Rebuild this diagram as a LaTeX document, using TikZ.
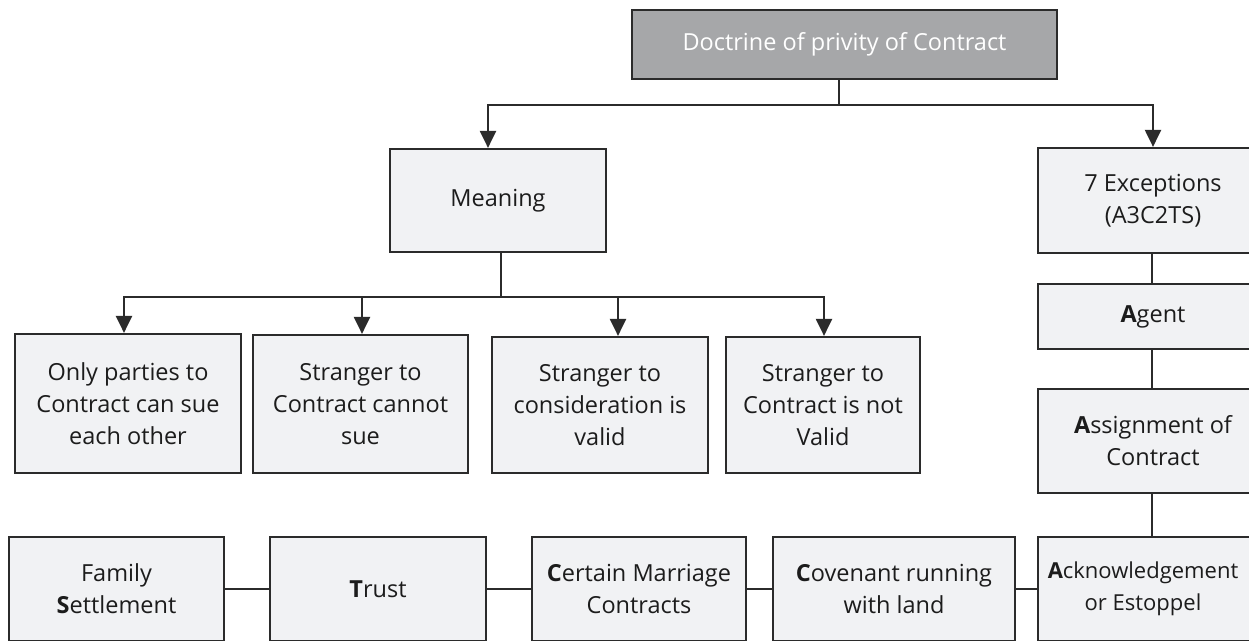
\documentclass[tikz,border=0pt]{standalone}
\usepackage{fontspec}
\setmainfont{Open Sans}
\usetikzlibrary{arrows.meta}

\definecolor{linec}{HTML}{2B2B2B}
\definecolor{boxfill}{HTML}{F1F2F4}
\definecolor{headfill}{HTML}{A6A7A9}
\definecolor{textc}{HTML}{1C1C1C}

\begin{document}
\begin{tikzpicture}[x=1pt,y=-1pt,
  box/.style={draw=linec,line width=2.2pt,fill=boxfill,rectangle,inner sep=0pt,
    align=center,text=textc,font=\fontsize{23.5}{32}\selectfont},
  headbox/.style={box,fill=headfill,text=white},
  link/.style={draw=linec,line width=2.2pt},
  arrowlink/.style={link,-{Triangle[width=16pt,length=17pt]}}]
\clip (0,0) rectangle (1249,640);
\fill[white] (0,0) rectangle (1249,640);

% title
\node[headbox,minimum width=425pt,minimum height=69pt] (top) at (844.5,44.5) {Doctrine of privity of Contract};

% second level
\node[box,minimum width=216pt,minimum height=103pt] (meaning) at (498,200.5) {Meaning};
\node[box,minimum width=230pt,minimum height=105pt] (exc) at (1153,200.5) {7 Exceptions\\(A3C2TS)};

% meaning branches
\node[box,minimum width=226pt,minimum height=139pt] (m1) at (128,403.5) {Only parties to\\Contract can sue\\each other};
\node[box,minimum width=215pt,minimum height=138pt] (m2) at (360.5,404) {Stranger to\\Contract cannot\\sue};
\node[box,minimum width=216pt,minimum height=136pt] (m3) at (600,405) {Stranger to\\consideration is\\valid};
\node[box,minimum width=194pt,minimum height=136pt] (m4) at (823,405) {Stranger to\\Contract is not\\Valid};

% exceptions column
\node[box,minimum width=230pt,minimum height=65pt] (agent) at (1153,316.5) {\textbf{A}gent};
\node[box,minimum width=230pt,minimum height=104pt] (assign) at (1153,441) {\textbf{A}ssignment of\\Contract};
% the long word is set a little smaller and pulled left so it stays on the page
\node[box,minimum width=230pt,minimum height=104pt,font=\fontsize{22}{32}\selectfont] (ack) at (1153,589)
  {\hspace*{-20pt}\textbf{A}cknowledgement\\\hspace*{-20pt}or Estoppel};

% exceptions row
\node[box,minimum width=242pt,minimum height=104pt] (cov) at (894,589) {\textbf{C}ovenant running\\with land};
\node[box,minimum width=214pt,minimum height=104pt] (cert) at (639,589) {\textbf{C}ertain Marriage\\Contracts};
\node[box,minimum width=216pt,minimum height=104pt] (trust) at (378,589) {\textbf{T}rust};
\node[box,minimum width=215pt,minimum height=104pt] (fam) at (116.5,589) {Family\\\textbf{S}ettlement};

% title to second level
\coordinate (bus1) at (839,105);
\draw[link] (top.south -| bus1) -- (bus1);
\draw[arrowlink] (bus1) -| ([xshift=-10pt]meaning.north);
\draw[arrowlink] (bus1) -| (exc.north);

% meaning to its branches
\coordinate (bus2) at (501,297);
\draw[link] (meaning.south -| bus2) -- (bus2);
\draw[arrowlink] (bus2) -| ([xshift=-4pt]m1.north);
\draw[arrowlink] (bus2) -| ([xshift=1.5pt]m2.north);
\draw[arrowlink] (bus2) -| ([xshift=18pt]m3.north);
\draw[arrowlink] (bus2) -| ([xshift=1pt]m4.north);

% chain of exceptions
\draw[link] ([xshift=-1pt]exc.south) -- ([xshift=-1pt]agent.north);
\draw[link] ([xshift=-1pt]agent.south) -- ([xshift=-1pt]assign.north);
\draw[link] ([xshift=-1pt]assign.south) -- ([xshift=-1pt]ack.north);
\draw[link] (ack.west) -- (cov.east);
\draw[link] (cov.west) -- (cert.east);
\draw[link] (cert.west) -- (trust.east);
\draw[link] (trust.west) -- (fam.east);
\end{tikzpicture}
\end{document}
